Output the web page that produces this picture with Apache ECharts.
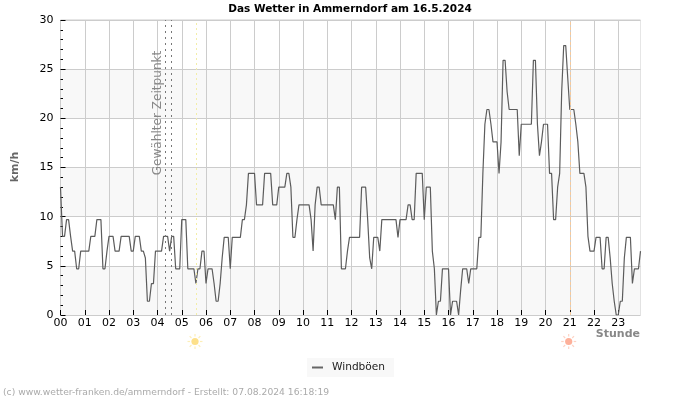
<!DOCTYPE html>
<html><head><meta charset="utf-8">
<script src="https://cdn.jsdelivr.net/npm/echarts@6/dist/echarts.min.js"></script>
<style>html,body{margin:0;padding:0;background:#fff}#c{width:700px;height:400px}</style>
</head><body><div id="c"></div>
<script>
const titleText = 'Das Wetter in Ammerndorf am 16.5.2024';
const yUnit = 'km/h';
const xUnit = 'Stunde';
const seriesName = 'Windböen';
const footer = '(c) www.wetter-franken.de/ammerndorf - Erstellt: 07.08.2024 16:18:19';
const markerText = 'Gewählter Zeitpunkt';
const hours = ['00','01','02','03','04','05','06','07','08','09','10','11','12','13','14','15','16','17','18','19','20','21','22','23'];
const minutesPerStep = ['00','05','10','15','20','25','30','35','40','45','50','55'];
const selectedTimes = ['04:20','04:35'];
const sunrise = '05:35';
const sunset = '21:00';
const gust = [
 13,8,8,9.7,9.7,8,6.5,6.5,4.7,4.7,6.5,6.5,
 6.5,6.5,6.5,8,8,8,9.7,9.7,9.7,4.7,4.7,6.5,
 8,8,8,6.5,6.5,6.5,8,8,8,8,8,6.5,
 6.5,8,8,8,6.5,6.5,5.8,1.4,1.4,3.2,3.2,6.5,
 6.5,6.5,6.5,8,8,8,6.5,8,8,4.7,4.7,4.7,
 9.7,9.7,9.7,4.7,4.7,4.7,4.7,3.2,4.7,4.7,6.5,6.5,
 3.2,4.7,4.7,4.7,3.2,1.4,1.4,3.2,5.8,7.9,7.9,7.9,
 4.7,7.9,7.9,7.9,7.9,7.9,9.7,9.7,11.2,14.4,14.4,14.4,
 14.4,11.2,11.2,11.2,11.2,14.4,14.4,14.4,14.4,11.2,11.2,11.2,
 13,13,13,13,14.4,14.4,13,7.9,7.9,9.7,11.2,11.2,
 11.2,11.2,11.2,11.2,9.7,6.5,11.2,13,13,11.2,11.2,11.2,
 11.2,11.2,11.2,11.2,9.7,13,13,4.7,4.7,4.7,6.5,7.9,
 7.9,7.9,7.9,7.9,7.9,13,13,13,9.7,5.8,4.7,7.9,
 7.9,7.9,6.5,9.7,9.7,9.7,9.7,9.7,9.7,9.7,9.7,7.9,
 9.7,9.7,9.7,9.7,11.2,11.2,9.7,9.7,14.4,14.4,14.4,14.4,
 9.7,13,13,13,6.5,4.7,0,1.4,1.4,4.7,4.7,4.7,
 4.7,0,1.4,1.4,1.4,0,2.5,4.7,4.7,4.7,3.2,4.7,
 4.7,4.7,4.7,7.9,7.9,14.4,19.4,20.9,20.9,19.4,17.6,17.6,
 17.6,14.4,17.6,25.9,25.9,22.7,20.9,20.9,20.9,20.9,20.9,16.2,
 19.4,19.4,19.4,19.4,19.4,19.4,25.9,25.9,19.4,16.2,17.6,19.4,
 19.4,19.4,14.4,14.4,9.7,9.7,13,14.4,22.7,27.4,27.4,24.1,
 20.9,20.9,20.9,19.4,17.6,14.4,14.4,14.4,13,8,6.5,6.5,
 6.5,7.9,7.9,7.9,4.7,4.7,7.9,7.9,5.8,3.2,1.4,0,
 0,1.4,1.4,5.8,7.9,7.9,7.9,3.2,4.7,4.7,4.7,6.5
];
const categories = hours.flatMap(h => minutesPerStep.map(m => h + ':' + m));
const vLine = (t, color, type) => ({xAxis: t, lineStyle: {color, type, width: 1}});
const ink = 'DejaVu Sans';
const sunIcon = (cx, cy, color, ray) => ({
  type: 'group', x: cx, y: cy, silent: true,
  children: [0,45,90,135,180,225,270,315].map(a => ({
    type: 'line', rotation: a * Math.PI / 180,
    shape: {x1: 5, y1: 0, x2: 7.5, y2: 0},
    style: {stroke: ray, lineWidth: 1.2}
  })).concat([{type: 'circle', shape: {r: 3.6}, style: {fill: color}}])
});
const chart = echarts.init(document.getElementById('c'), null, {renderer: 'canvas'});
chart.setOption({
  animation: false,
  backgroundColor: '#fff',
  title: {text: titleText, left: 350, textAlign: 'center', top: 3.5, padding: 0,
    textStyle: {fontFamily: ink, fontSize: 10.5, fontWeight: 'bold', color: '#000'}},
  grid: {left: 60.5, right: 59.5, top: 20, bottom: 85, show: true, borderColor: '#ccc', borderWidth: 1, backgroundColor: 'transparent'},
  legend: {show: true, left: 307, top: 358, padding: [4, 9, 4, 5], backgroundColor: '#f8f8f8',
    itemWidth: 11, itemHeight: 2, itemGap: 4, icon: 'rect', itemStyle: {color: '#666'},
    data: [{name: seriesName}],
    textStyle: {fontFamily: ink, fontSize: 10.6, color: '#222', padding: [0, 0, 0, 4]}},
  xAxis: {type: 'category', data: categories, boundaryGap: false,
    axisLine: {show: false},
    axisTick: {show: true, inside: true, length: 5, interval: (i) => i % 12 === 0, lineStyle: {color: '#000', width: 1}},
    axisLabel: {interval: (i) => i % 12 === 0, formatter: (v) => v.slice(0, 2), fontFamily: ink, fontSize: 11, color: '#000', margin: 3},
    splitLine: {show: true, interval: (i) => i % 12 === 0, lineStyle: {color: '#ccc', width: 1}}
  },
  yAxis: {type: 'value', min: 0, max: 30, interval: 5,
    axisLine: {show: false},
    axisTick: {show: true, inside: true, length: 5, lineStyle: {color: '#000', width: 1}},
    minorTick: {show: true, splitNumber: 5, length: 2.5, lineStyle: {color: '#000', width: 1}},
    axisLabel: {fontFamily: ink, fontSize: 11, color: '#000', margin: 7},
    splitLine: {show: true, lineStyle: {color: '#ccc', width: 1}},
    splitArea: {show: true, areaStyle: {color: ['#f8f8f8', '#ffffff']}}
  },
  series: [{
    name: seriesName, type: 'line', data: gust, showSymbol: false, symbol: 'none', smooth: false,
    lineStyle: {color: '#5c5c5c', width: 1.2},
    markLine: {silent: true, symbol: 'none', label: {show: false}, animation: false,
      data: [
        vLine(selectedTimes[0], '#777', [2, 4]),
        vLine(selectedTimes[1], '#777', [2, 4]),
        vLine(sunrise, '#f3eda8', [2, 3]),
        vLine(sunset, '#f6c99a', [3, 2])
      ]}
  }],
  graphic: [
    {type: 'text', x: 158, y: 113, rotation: Math.PI / 2, silent: true, z: 20,
      style: {text: markerText, fill: '#888', font: '12.1px "DejaVu Sans"', align: 'center', verticalAlign: 'middle'}},
    {type: 'text', x: 15, y: 167, rotation: Math.PI / 2, silent: true,
      style: {text: yUnit, fill: '#666', font: 'bold 11px "DejaVu Sans"', align: 'center', verticalAlign: 'middle'}},
    {type: 'text', x: 640, y: 334, silent: true,
      style: {text: xUnit, fill: '#888', font: 'bold 11px "DejaVu Sans"', align: 'right', verticalAlign: 'middle'}},
    {type: 'text', x: 3, y: 393, silent: true,
      style: {text: footer, fill: '#aaa', font: '9.2px "DejaVu Sans"', align: 'left', verticalAlign: 'middle'}},
    sunIcon(195, 341.5, '#fde08a', '#fdeeb8'),
    sunIcon(568.7, 341.5, '#fdb09a', '#fdd2c4')
  ]
});
</script></body></html>
